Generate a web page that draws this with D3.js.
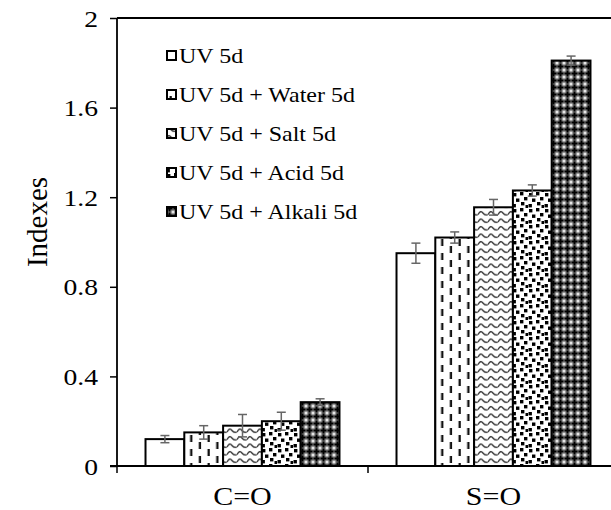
<!DOCTYPE html>
<html>
<head>
<meta charset="utf-8">
<script src="https://cdn.jsdelivr.net/npm/d3@7/dist/d3.min.js"></script>
<style>
  html, body { margin: 0; padding: 0; background: #fff; }
  svg { display: block; }
</style>
</head>
<body>
<svg id="chart" width="611" height="510"></svg>
<script>
// Bond groups on the x axis
const categories = ["C=O", "S=O"];
// Exposure conditions (legend order)
const series = ["UV 5d", "UV 5d + Water 5d", "UV 5d + Salt 5d", "UV 5d + Acid 5d", "UV 5d + Alkali 5d"];
// Index values per condition, one entry per category
const valuesCO = [0.12, 0.15, 0.18, 0.20, 0.285];
const valuesSO = [0.95, 1.02, 1.155, 1.23, 1.81];
// Standard deviations drawn as error bars
const errorsCO = [0.016, 0.03, 0.05, 0.04, 0.015];
const errorsSO = [0.045, 0.025, 0.035, 0.025, 0.02];
const yTicks = [0, 0.4, 0.8, 1.2, 1.6, 2];

const FONT = '"Liberation Serif"';

const svg = d3.select("#chart");
const margin = { left: 117, top: 18, bottom: 466 };
const plotRight = 619;

const x0 = d3.scaleBand().domain(categories).range([margin.left, plotRight]).paddingInner(0).paddingOuter(0);
const x1 = d3.scaleBand().domain(series).range([0, x0.bandwidth()]).paddingInner(0).paddingOuter(0.735);
const y = d3.scaleLinear().domain([0, 2]).range([margin.bottom, margin.top]);

// ---- fill patterns ----
const defs = svg.append("defs");

// dashed vertical lines
const pWater = defs.append("pattern").attr("id", "p-water").attr("patternUnits", "userSpaceOnUse")
  .attr("width", 17.4).attr("height", 14);
pWater.append("rect").attr("width", 17.4).attr("height", 14).attr("fill", "#fff");
pWater.append("rect").attr("x", 3.5).attr("y", 1).attr("width", 2.3).attr("height", 7).attr("fill", "#111");
pWater.append("rect").attr("x", 12.2).attr("y", 8).attr("width", 2.3).attr("height", 7).attr("fill", "#111");
pWater.append("rect").attr("x", 12.2).attr("y", -6).attr("width", 2.3).attr("height", 7).attr("fill", "#111");

// wave
const pSalt = defs.append("pattern").attr("id", "p-salt").attr("patternUnits", "userSpaceOnUse")
  .attr("width", 10).attr("height", 7.5);
pSalt.append("rect").attr("width", 10).attr("height", 7.5).attr("fill", "#fff");
pSalt.append("path").attr("d", "M0,4.5 C2,1 3.5,1 5,3 C6.5,5 8,5.5 10,4.5")
  .attr("fill", "none").attr("stroke", "#333").attr("stroke-width", 1.4);

// large confetti
const pAcid = defs.append("pattern").attr("id", "p-acid").attr("patternUnits", "userSpaceOnUse")
  .attr("width", 16).attr("height", 16);
pAcid.append("rect").attr("width", 16).attr("height", 16).attr("fill", "#fff");
[[1, 1], [8, 0], [12, 5], [4, 6.5], [9, 10], [0.5, 12], [13.5, 13]].forEach(([a, b]) =>
  pAcid.append("rect").attr("x", a).attr("y", b).attr("width", 3.4).attr("height", 3.4).attr("fill", "#000"));

// dark lattice
const pAlkali = defs.append("pattern").attr("id", "p-alkali").attr("patternUnits", "userSpaceOnUse")
  .attr("width", 7).attr("height", 7);
pAlkali.append("rect").attr("width", 7).attr("height", 7).attr("fill", "#7a7a7a");
pAlkali.append("path").attr("d", "M2.5,0.5h2v2h2v2h-2v2h-2v-2h-2v-2h2z").attr("fill", "#000");
[[0, 0], [7, 0], [0, 7], [7, 7]].forEach(([a, b]) =>
  pAlkali.append("circle").attr("cx", a).attr("cy", b).attr("r", 1.5).attr("fill", "#e6e6e6"));

const fills = ["#fff", "url(#p-water)", "url(#p-salt)", "url(#p-acid)", "url(#p-alkali)"];

// ---- frame line along the top ----
svg.append("line").attr("x1", margin.left).attr("x2", 611).attr("y1", y(2)).attr("y2", y(2))
  .attr("stroke", "#000").attr("stroke-width", 1.8);

// ---- bars ----
const table = categories.map((c, ci) => ({
  cat: c,
  vals: series.map((s, si) => ({
    s, si,
    v: ci === 0 ? valuesCO[si] : valuesSO[si],
    e: ci === 0 ? errorsCO[si] : errorsSO[si]
  }))
}));

const groups = svg.append("g").selectAll("g").data(table).join("g")
  .attr("transform", d => `translate(${x0(d.cat)},0)`);

groups.selectAll("rect").data(d => d.vals).join("rect")
  .attr("x", d => x1(d.s))
  .attr("y", d => y(d.v))
  .attr("width", x1.bandwidth())
  .attr("height", d => y(0) - y(d.v))
  .attr("fill", d => fills[d.si])
  .attr("stroke", "#000").attr("stroke-width", 2);

// ---- error bars ----
const eb = groups.selectAll("g.eb").data(d => d.vals).join("g").attr("class", "eb")
  .attr("stroke", "#666").attr("stroke-width", 1.5);
eb.append("line")
  .attr("x1", d => x1(d.s) + x1.bandwidth() / 2).attr("x2", d => x1(d.s) + x1.bandwidth() / 2)
  .attr("y1", d => y(d.v + d.e)).attr("y2", d => y(d.v - d.e));
[1, -1].forEach(sg => eb.append("line")
  .attr("x1", d => x1(d.s) + x1.bandwidth() / 2 - 4.5).attr("x2", d => x1(d.s) + x1.bandwidth() / 2 + 4.5)
  .attr("y1", d => y(d.v + sg * d.e)).attr("y2", d => y(d.v + sg * d.e)));

// ---- axes ----
const yAxis = svg.append("g").attr("transform", `translate(${margin.left},0)`)
  .call(d3.axisLeft(y).tickValues(yTicks).tickFormat(d3.format("")).tickSize(7));
yAxis.select(".domain").attr("stroke-width", 1.8).attr("d", `M0,${y(0)}V${y(2)}`);
yAxis.selectAll(".tick line").attr("stroke-width", 1.5);
yAxis.selectAll(".tick text")
  .attr("x", null).attr("dy", "0.34em")
  .attr("transform", "translate(-19,0) scale(1.15,1)")
  .attr("font-size", 24)
  .style("font-family", FONT);

const xAxis = svg.append("g").attr("transform", `translate(0,${y(0)})`)
  .call(d3.axisBottom(x0).tickSize(0));
xAxis.select(".domain").attr("stroke-width", 1.8).attr("d", `M${margin.left - 7},0H${plotRight}`);
xAxis.selectAll(".tick text")
  .attr("y", null).attr("dy", null)
  .attr("transform", "translate(0,39) scale(1.2,1)")
  .attr("font-size", 25)
  .style("font-family", FONT);
// category separators below the axis
xAxis.selectAll("line.sep").data([margin.left, x0(categories[1]), plotRight]).join("line")
  .attr("class", "sep").attr("x1", d => d).attr("x2", d => d).attr("y1", 0).attr("y2", 7)
  .attr("stroke", "#000").attr("stroke-width", 1.5);

// ---- y title ----
svg.append("text").attr("transform", `translate(47,222) rotate(-90)`)
  .attr("text-anchor", "middle").attr("font-size", 29)
  .style("font-family", FONT).text("Indexes");

// ---- legend ----
const legend = svg.append("g").selectAll("g").data(series).join("g")
  .attr("transform", (d, i) => `translate(166,${56 + i * 39})`);
legend.append("rect").attr("x", 1).attr("y", -5).attr("width", 9).attr("height", 9)
  .attr("fill", (d, i) => fills[i]).attr("stroke", "#000").attr("stroke-width", 2);
legend.append("text").attr("transform", "translate(13,7) scale(1.2,1)")
  .attr("font-size", 20).style("font-family", FONT).text(d => d);
</script>
</body>
</html>
